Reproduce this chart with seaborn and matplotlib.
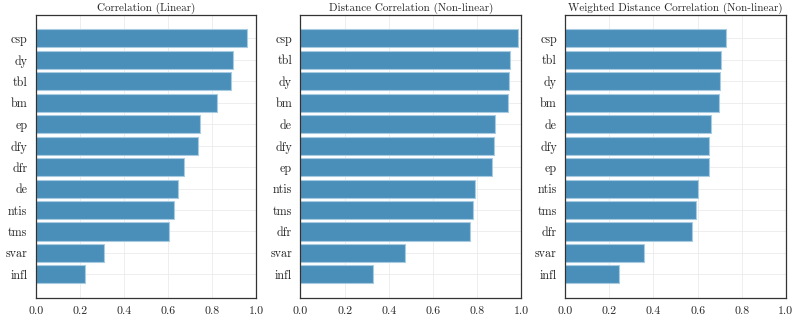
import matplotlib
matplotlib.use("Agg")
import matplotlib.pyplot as plt
import seaborn as sns
import pandas as pd

# ── data ──────────────────────────────────────────────────────────────────────
TITLES = ["Correlation (Linear)",
          "Distance Correlation (Non-linear)",
          "Weighted Distance Correlation (Non-linear)"]

lin_vars = ["csp", "dy", "tbl", "bm", "ep", "dfy", "dfr", "de", "ntis", "tms", "svar", "infl"]
lin_vals = [0.958, 0.893, 0.886, 0.824, 0.745, 0.736, 0.670, 0.644, 0.625, 0.606, 0.309, 0.223]

dc_vars = ["csp", "tbl", "dy", "bm", "de", "dfy", "ep", "ntis", "tms", "dfr", "svar", "infl"]
dc_vals = [0.985, 0.948, 0.944, 0.941, 0.881, 0.875, 0.870, 0.791, 0.783, 0.770, 0.472, 0.330]

wdc_vars = ["csp", "tbl", "dy", "bm", "de", "dfy", "ep", "ntis", "tms", "dfr", "svar", "infl"]
wdc_vals = [0.727, 0.704, 0.700, 0.697, 0.659, 0.653, 0.650, 0.600, 0.591, 0.575, 0.359, 0.246]

BAR_COLOR = "#4a8fba"

sns.set_style("white")
plt.rcParams["font.family"] = ["cmr10", "DejaVu Serif"]
plt.rcParams["axes.formatter.use_mathtext"] = True
plt.rcParams["mathtext.fontset"] = "cm"

fig, axes = plt.subplots(1, 3, figsize=(7.93, 3.17), dpi=100)
fig.subplots_adjust(left=0.045, right=0.991, top=0.953, bottom=0.06, wspace=0.2)

panels = [(lin_vars, lin_vals), (dc_vars, dc_vals), (wdc_vars, wdc_vals)]
for ax, title, (names, vals) in zip(axes, TITLES, panels):
    df = pd.DataFrame({"var": names, "val": vals})
    sns.barplot(data=df, x="val", y="var", ax=ax, color=BAR_COLOR,
                saturation=1, width=0.84, edgecolor="#a8cbe2", linewidth=0.8,
                zorder=2)
    ax.set_xlim(0, 1.0)
    ax.set_ylim(len(names) - 1 + 1.1, -1.1)
    ax.set_xticks([0.0, 0.2, 0.4, 0.6, 0.8, 1.0])
    ax.set_xticklabels(["0.0", "0.2", "0.4", "0.6", "0.8", "1.0"])
    ax.set_xlabel(""); ax.set_ylabel("")
    ax.set_title(title, fontsize=8, pad=3)
    ax.grid(True, color="#ebebeb", linewidth=0.6, zorder=0)
    ax.set_axisbelow(True)
    ax.tick_params(axis="x", direction="in", length=2.5, width=0.6,
                   labelsize=8.5, pad=6)
    ax.tick_params(axis="y", length=0, labelsize=8.7, pad=6)
    for side in ["top", "right", "left", "bottom"]:
        ax.spines[side].set_visible(True)
        ax.spines[side].set_color("#333333")
        ax.spines[side].set_linewidth(0.9)

fig.savefig("out.png", dpi=100)
